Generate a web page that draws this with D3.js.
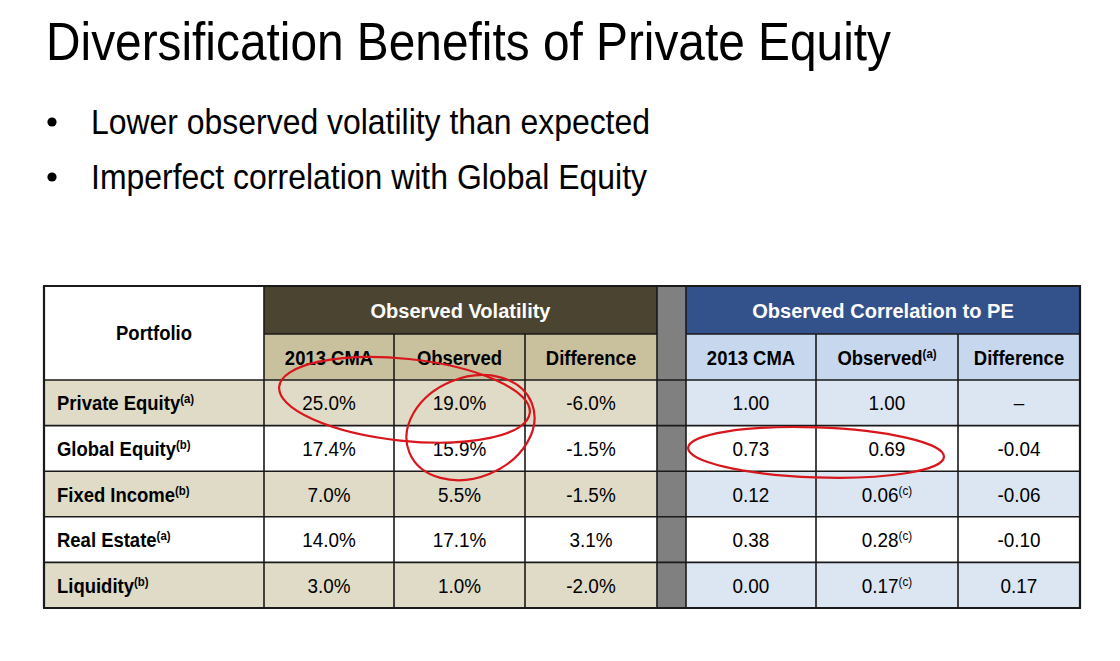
<!DOCTYPE html>
<html>
<head>
<meta charset="utf-8">
<script src="https://cdn.jsdelivr.net/npm/d3@7"></script>
<style>
  html, body { margin: 0; padding: 0; background: #ffffff; }
  svg { display: block; }
</style>
</head>
<body>
<svg id="chart" width="1120" height="661"></svg>
<script>
// ---------------- DATA ----------------
const title = "Diversification Benefits of Private Equity";
const bullets = ["Lower observed volatility than expected", "Imperfect correlation with Global Equity"];

const groupHeaders = ["Observed Volatility", "Observed Correlation to PE"];
const subHeaders = ["2013 CMA", "Observed", "Difference", "2013 CMA", "Observed", "Difference"];
const subHeaderNotes = ["", "", "", "", "a", ""];

const portfolios = ["Private Equity", "Global Equity", "Fixed Income", "Real Estate", "Liquidity"];
const portfolioNotes = ["a", "b", "b", "a", "b"];

const volCMA = [25.0, 17.4, 7.0, 14.0, 3.0];
const volObserved = [19.0, 15.9, 5.5, 17.1, 1.0];
const volDifference = [-6.0, -1.5, -1.5, 3.1, -2.0];

const corrCMA = [1.00, 0.73, 0.12, 0.38, 0.00];
const corrObserved = [1.00, 0.69, 0.06, 0.28, 0.17];
const corrObservedNotes = ["", "", "c", "c", "c"];
const corrDifference = [null, -0.04, -0.06, -0.10, 0.17];

// highlighted (circled) cells: row range and value-column range
const highlights = [
  { rows: [0, 0], cols: [0, 1] },
  { rows: [0, 1], cols: [1, 1] },
  { rows: [1, 1], cols: [3, 4] }
];

// ---------------- LAYOUT ----------------
const svg = d3.select("#chart");
const FONT = "'Liberation Sans Narrow', 'Arial Narrow', 'Liberation Sans', Arial, sans-serif";

const colors = {
  volHead: "#4b4430", volSub: "#c9c19e", volRow: "#dfdbc7",
  corrHead: "#33518b", corrSub: "#c6d7ee", corrRow: "#dce6f2",
  sep: "#808080", white: "#ffffff", border: "#1a1a1a", red: "#d8161c"
};

// Title
svg.append("text").attr("x", 46).attr("y", 60)
  .attr("font-family", FONT).attr("font-size", 53).attr("fill", "#000")
  .attr("textLength", 845).attr("lengthAdjust", "spacingAndGlyphs")
  .text(title);

// Bullets
const bulletY = d3.scalePoint().domain(d3.range(bullets.length)).range([133.5, 188.5]);
const bulletWidths = [559, 556];
bullets.forEach((b, i) => {
  svg.append("circle").attr("cx", 52).attr("cy", bulletY(i) - 11.5).attr("r", 4.6).attr("fill", "#000");
  svg.append("text").attr("x", 91).attr("y", bulletY(i))
    .attr("font-family", FONT).attr("font-size", 35).attr("fill", "#000")
    .attr("textLength", bulletWidths[i]).attr("lengthAdjust", "spacingAndGlyphs")
    .text(b);
});

// Table columns: label, 3 vol, separator, 3 corr
const colEdges = [44, 264, 394, 525, 657, 686, 816, 958, 1080];
const valueCols = [1, 2, 3, 5, 6, 7]; // indices into colEdges
const colX0 = i => colEdges[valueCols[i]];
const colX1 = i => colEdges[valueCols[i] + 1];
const colMid = i => (colX0(i) + colX1(i)) / 2;

const tableTop = 286, head1Bottom = 334, head2Bottom = 380, tableBottom = 608;
const rowScale = d3.scaleBand().domain(d3.range(portfolios.length)).range([head2Bottom, tableBottom]);

const g = svg.append("g");

// Header backgrounds
g.append("rect").attr("x", colEdges[0]).attr("y", tableTop)
  .attr("width", colEdges[1] - colEdges[0]).attr("height", head2Bottom - tableTop).attr("fill", colors.white);
g.append("rect").attr("x", colEdges[1]).attr("y", tableTop)
  .attr("width", colEdges[4] - colEdges[1]).attr("height", head1Bottom - tableTop).attr("fill", colors.volHead);
g.append("rect").attr("x", colEdges[5]).attr("y", tableTop)
  .attr("width", colEdges[8] - colEdges[5]).attr("height", head1Bottom - tableTop).attr("fill", colors.corrHead);
// separator
g.append("rect").attr("x", colEdges[4]).attr("y", tableTop)
  .attr("width", colEdges[5] - colEdges[4]).attr("height", tableBottom - tableTop).attr("fill", colors.sep);

// Sub header backgrounds
subHeaders.forEach((s, i) => {
  g.append("rect").attr("x", colX0(i)).attr("y", head1Bottom)
    .attr("width", colX1(i) - colX0(i)).attr("height", head2Bottom - head1Bottom)
    .attr("fill", i < 3 ? colors.volSub : colors.corrSub);
});

// Row backgrounds
portfolios.forEach((p, r) => {
  const y = rowScale(r), h = rowScale.bandwidth();
  const shaded = r % 2 === 0;
  g.append("rect").attr("x", colEdges[0]).attr("y", y).attr("width", colEdges[4] - colEdges[0]).attr("height", h)
    .attr("fill", shaded ? colors.volRow : colors.white);
  g.append("rect").attr("x", colEdges[5]).attr("y", y).attr("width", colEdges[8] - colEdges[5]).attr("height", h)
    .attr("fill", shaded ? colors.corrRow : colors.white);
});

// Grid lines
const inner = sel => sel.attr("stroke", colors.border).attr("stroke-width", 1.6);
const outer = sel => sel.attr("stroke", colors.border).attr("stroke-width", 2.2);
d3.range(1, portfolios.length).map(r => rowScale(r)).concat([head2Bottom]).forEach(y => {
  g.append("line").attr("x1", colEdges[0]).attr("x2", colEdges[8]).attr("y1", y).attr("y2", y).call(inner);
});
g.append("line").attr("x1", colEdges[1]).attr("x2", colEdges[4]).attr("y1", head1Bottom).attr("y2", head1Bottom).call(inner);
g.append("line").attr("x1", colEdges[5]).attr("x2", colEdges[8]).attr("y1", head1Bottom).attr("y2", head1Bottom).call(inner);
colEdges.forEach((x, i) => {
  const sub = (i === 2 || i === 3 || i === 6 || i === 7);
  const isOuter = (i === 0 || i === colEdges.length - 1);
  g.append("line").attr("x1", x).attr("x2", x).attr("y1", sub ? head1Bottom : tableTop).attr("y2", tableBottom)
    .call(isOuter ? outer : inner);
});
[tableTop, tableBottom].forEach(y => {
  g.append("line").attr("x1", colEdges[0] - 1).attr("x2", colEdges[8] + 1).attr("y1", y).attr("y2", y).call(outer);
});

// Text helper: condensed bold/regular text (narrow face emulated by horizontal scaling)
function addText(x, y, str, note, opts) {
  const sx = opts.sx || 0.88;
  const t = g.append("text").attr("x", 0).attr("y", 0)
    .attr("transform", `translate(${x},${y}) scale(${sx},1)`)
    .attr("font-family", FONT).attr("font-size", opts.size || 21)
    .attr("font-weight", opts.bold ? "bold" : "normal")
    .attr("fill", opts.fill || "#000")
    .attr("text-anchor", opts.anchor || "middle");
  t.append("tspan").text(str);
  if (note) {
    t.append("tspan").attr("font-size", 13).attr("dy", -7).text("(" + note + ")");
  }
  return t;
}

// Headers
addText((colEdges[0] + colEdges[1]) / 2, (tableTop + head2Bottom) / 2 + 7, "Portfolio", "", { bold: true });
addText((colEdges[1] + colEdges[4]) / 2, (tableTop + head1Bottom) / 2 + 7.5, groupHeaders[0], "", { bold: true, fill: "#fff", sx: 0.955 });
addText((colEdges[5] + colEdges[8]) / 2, (tableTop + head1Bottom) / 2 + 7.5, groupHeaders[1], "", { bold: true, fill: "#fff", sx: 0.955 });
subHeaders.forEach((s, i) => {
  addText(colMid(i), (head1Bottom + head2Bottom) / 2 + 7.5, s, subHeaderNotes[i], { bold: true });
});

// Body
const pct = v => d3.format(".1f")(v).replace("\u2212", "-") + "%";
const cor = v => v === null ? "\u2013" : d3.format(".2f")(v).replace("\u2212", "-");
const columns = [
  { values: volCMA, fmt: pct },
  { values: volObserved, fmt: pct },
  { values: volDifference, fmt: pct },
  { values: corrCMA, fmt: cor },
  { values: corrObserved, fmt: cor, notes: corrObservedNotes },
  { values: corrDifference, fmt: cor }
];
portfolios.forEach((p, r) => {
  const cy = rowScale(r) + rowScale.bandwidth() / 2 + 7.5;
  addText(57, cy, p, portfolioNotes[r], { bold: true, anchor: "start" });
  columns.forEach((c, i) => {
    addText(colMid(i), cy, c.fmt(c.values[r]), c.notes ? c.notes[r] : "", { sx: 0.9 });
  });
});

// Red hand-drawn ellipses around highlighted cells
const ellipseTweaks = [
  { dx: 10, dy: -3, rx: 126, ry: 41, rot: 6 },
  { dx: 11, dy: 2, rx: 66, ry: 50, rot: -22 },
  { dx: -6, dy: 4, rx: 128, ry: 25, rot: 2 }
];
highlights.forEach((h, k) => {
  const x0 = colX0(h.cols[0]), x1 = colX1(h.cols[1]);
  const y0 = rowScale(h.rows[0]), y1 = rowScale(h.rows[1]) + rowScale.bandwidth();
  const t = ellipseTweaks[k];
  const cx = (x0 + x1) / 2 + t.dx, cy = (y0 + y1) / 2 + t.dy;
  svg.append("ellipse").attr("cx", 0).attr("cy", 0).attr("rx", t.rx).attr("ry", t.ry)
    .attr("transform", `translate(${cx},${cy}) rotate(${t.rot})`)
    .attr("fill", "none").attr("stroke", colors.red).attr("stroke-width", 2.2);
});
</script>
</body>
</html>
